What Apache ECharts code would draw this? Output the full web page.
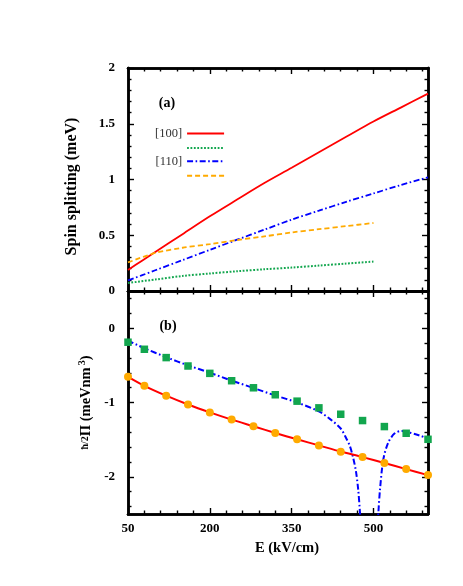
<!DOCTYPE html>
<html>
<head>
<meta charset="utf-8">
<script src="https://cdn.jsdelivr.net/npm/echarts@6/dist/echarts.min.js"></script>
<style>html,body{margin:0;padding:0;background:#fff}#c{width:463px;height:586px}</style>
</head>
<body>
<div id="c"></div>
<script>
// ---------- Panel (a): spin splitting (meV) ----------
const E_a = [50, 75, 100, 150, 200, 250, 300, 350, 400, 450, 500, 550, 600];
const split100 = [0.188, 0.27, 0.35, 0.51, 0.67, 0.82, 0.968, 1.105, 1.245, 1.383, 1.52, 1.645, 1.77];
const split110 = [0.095, 0.14, 0.186, 0.277, 0.369, 0.46, 0.55, 0.64, 0.72, 0.80, 0.875, 0.95, 1.02];
const E_a2 = [50, 100, 150, 200, 250, 300, 350, 400, 450, 500];
const split100b = [0.072, 0.103, 0.135, 0.157, 0.177, 0.195, 0.21, 0.228, 0.246, 0.264];
const split110b = [0.256, 0.341, 0.388, 0.42, 0.457, 0.49, 0.525, 0.554, 0.582, 0.61];

// ---------- Panel (b): hbar/2 Pi (meV nm^3) ----------
const E_b = [50, 80, 120, 160, 200, 240, 280, 320, 360, 400, 440, 480, 520, 560, 600];
const pts110 = [-0.189, -0.284, -0.396, -0.509, -0.608, -0.707, -0.802, -0.896, -0.982, -1.072, -1.158, -1.243, -1.324, -1.414, -1.495];
const pts100 = [-0.653, -0.775, -0.91, -1.027, -1.135, -1.23, -1.32, -1.41, -1.495, -1.577, -1.662, -1.734, -1.815, -1.896, -1.977];
const line100 = [-0.655, -0.775, -0.908, -1.027, -1.133, -1.23, -1.32, -1.41, -1.495, -1.577, -1.66, -1.735, -1.815, -1.896, -1.977];
const E_bl = [50, 80, 120, 160, 200, 240, 280, 320, 360, 400, 420, 440, 450, 457, 463, 468, 472, 475, 478, 492, 506, 509, 512, 518, 527, 539, 552, 567, 583, 600];
const line110 = [-0.167, -0.27, -0.39, -0.5, -0.6, -0.705, -0.805, -0.905, -1.0, -1.12, -1.22, -1.35, -1.48, -1.59, -1.75, -1.93, -2.17, -2.45, -2.8, null, -2.8, -2.48, -2.17, -1.77, -1.54, -1.415, -1.383, -1.406, -1.44, -1.486];

// ---------- Axis ticks ----------
const xMajor = [50, 200, 350, 500];
const xMinor = [80, 110, 140, 170, 230, 260, 290, 320, 380, 410, 440, 470, 530, 560, 590];
const yaMajor = [0, 0.5, 1, 1.5, 2];
const yaMinor = [0.1,0.2,0.3,0.4,0.6,0.7,0.8,0.9,1.1,1.2,1.3,1.4,1.6,1.7,1.8,1.9];
const ybMajor = [-2, -1, 0];
const ybMinor = [-2.4,-2.2,-1.8,-1.6,-1.4,-1.2,-0.8,-0.6,-0.4,-0.2,0.2,0.4];

const FONT = 'Liberation Serif';
const zip = (xs, ys) => xs.map((x, i) => [x, ys[i]]);

function tickAxis(base, gridIndex, position, values, len, labels) {
  return Object.assign({
    type: 'value', gridIndex, position,
    axisLine: { show: true, onZero: false, lineStyle: { color: '#000', width: 2.5 } },
    splitLine: { show: false },
    axisTick: { show: true, inside: true, customValues: values, length: len, lineStyle: { color: '#000', width: 1.4 } },
    axisLabel: labels ? Object.assign({ show: true, customValues: values, color: '#000', fontFamily: FONT, fontWeight: 'bold', fontSize: 13 }, labels) : { show: false }
  }, base);
}

const xAxes = [], yAxes = [];
// grid 0
const xb0 = { min: 50, max: 600 };
xAxes.push(tickAxis(xb0, 0, 'bottom', xMajor, 6, null));
xAxes.push(tickAxis(xb0, 0, 'bottom', xMinor, 3.5, null));
xAxes.push(tickAxis(xb0, 0, 'top', xMajor, 6, null));
xAxes.push(tickAxis(xb0, 0, 'top', xMinor, 3.5, null));
const ya = { min: 0, max: 2 };
yAxes.push(tickAxis(Object.assign({ name: 'Spin splitting (meV)', nameLocation: 'middle', nameGap: 48, nameRotate: 90,
  nameTextStyle: { fontFamily: FONT, fontWeight: 'bold', fontSize: 16, color: '#000', padding: [0, 14, 0, 0] } }, ya), 0, 'left', yaMajor, 6, { margin: 13 }));
yAxes.push(tickAxis(ya, 0, 'left', yaMinor, 3.5, null));
yAxes.push(tickAxis(ya, 0, 'right', yaMajor, 6, null));
yAxes.push(tickAxis(ya, 0, 'right', yaMinor, 3.5, null));
// grid 1
xAxes.push(tickAxis(Object.assign({ name: 'E (kV/cm)', nameLocation: 'middle', nameGap: 27,
  nameTextStyle: { fontFamily: FONT, fontWeight: 'bold', fontSize: 14.5, color: '#000', padding: [0, 0, 0, 18] } }, xb0), 1, 'bottom', xMajor, 6, { margin: 8 }));
xAxes.push(tickAxis(xb0, 1, 'bottom', xMinor, 3.5, null));
xAxes.push(tickAxis(xb0, 1, 'top', xMajor, 6, null));
xAxes.push(tickAxis(xb0, 1, 'top', xMinor, 3.5, null));
const yb = { min: -2.5, max: 0.5 };
yAxes.push(tickAxis(Object.assign({ name: '{f|ħ/2}Π (meVnm{s|3})', nameLocation: 'middle', nameGap: 33, nameRotate: 90,
  nameTextStyle: { fontFamily: FONT, fontWeight: 'bold', fontSize: 14.5, color: '#000',
    rich: { f: { fontFamily: FONT, fontSize: 10, fontWeight: 'bold', color: '#000' }, s: { fontFamily: FONT, fontSize: 10, fontWeight: 'bold', color: '#000', verticalAlign: 'top', padding: [0, 0, 6, 2] } } } }, yb), 1, 'left', ybMajor, 6, { margin: 13 }));
yAxes.push(tickAxis(yb, 1, 'left', ybMinor, 3.5, null));
yAxes.push(tickAxis(yb, 1, 'right', ybMajor, 6, null));
yAxes.push(tickAxis(yb, 1, 'right', ybMinor, 3.5, null));

const RED = '#ff0000', GREEN = '#12a64e', BLUE = '#0000ff', ORANGE = '#ffaa00';

const option = {
  animation: false,
  backgroundColor: '#fff',
  grid: [
    { left: 128, right: 35, top: 68, height: 223, show: false },
    { left: 128, right: 35, top: 291, height: 223, show: false }
  ],
  xAxis: xAxes,
  yAxis: yAxes,
  legend: {
    orient: 'vertical', left: 150, top: 122, itemWidth: 37, itemHeight: 12, itemGap: 2, align: 'right',
    selectedMode: false,
    data: ['[100]', '[100] ', '[110]', '[110] '],
    formatter: n => (n.indexOf(' ') >= 0 ? '' : n),
    itemStyle: { color: 'rgba(0,0,0,0)', borderColor: 'rgba(0,0,0,0)', borderWidth: 0, opacity: 0 },
    textStyle: { fontFamily: FONT, fontSize: 12.5, color: '#333' }
  },
  graphic: [
    { type: 'text', x: 167, y: 103, style: { text: '(a)', font: 'bold 14px "Liberation Serif"', fill: '#000', align: 'center', verticalAlign: 'middle' } },
    { type: 'text', x: 168, y: 326, style: { text: '(b)', font: 'bold 14px "Liberation Serif"', fill: '#000', align: 'center', verticalAlign: 'middle' } }
  ],
  series: [
    { name: '[100]', type: 'line', xAxisIndex: 0, yAxisIndex: 0, data: zip(E_a, split100), symbol: 'none', smooth: 0.3,
      lineStyle: { color: RED, width: 1.8 }, itemStyle: { color: RED } },
    { name: '[100] ', type: 'line', xAxisIndex: 0, yAxisIndex: 0, data: zip(E_a2, split100b), symbol: 'none', smooth: 0.3,
      lineStyle: { color: GREEN, width: 2, type: [1.8, 1.6] }, itemStyle: { color: GREEN } },
    { name: '[110]', type: 'line', xAxisIndex: 0, yAxisIndex: 0, data: zip(E_a, split110), symbol: 'none', smooth: 0.3,
      lineStyle: { color: BLUE, width: 1.8, type: [6, 2.5, 1.6, 2.5] }, itemStyle: { color: BLUE } },
    { name: '[110] ', type: 'line', xAxisIndex: 0, yAxisIndex: 0, data: zip(E_a2, split110b), symbol: 'none', smooth: 0.3,
      lineStyle: { color: ORANGE, width: 1.8, type: [5, 3] }, itemStyle: { color: ORANGE } },

    { name: 'b110line', type: 'line', xAxisIndex: 4, yAxisIndex: 4, data: zip(E_bl, line110), symbol: 'none', smooth: 0.3, connectNulls: false, clip: true,
      lineStyle: { color: BLUE, width: 2, type: [6, 2.5, 1.6, 2.5] }, z: 3 },
    { name: 'b100line', type: 'line', xAxisIndex: 4, yAxisIndex: 4, data: zip(E_b, line100), symbol: 'none', smooth: 0.3,
      lineStyle: { color: RED, width: 2 }, z: 3 },
    { name: 'b110pts', type: 'scatter', xAxisIndex: 4, yAxisIndex: 4, data: zip(E_b, pts110), symbol: 'rect', symbolSize: 7.5,
      itemStyle: { color: GREEN, opacity: 1 }, z: 4 },
    { name: 'b100pts', type: 'scatter', xAxisIndex: 4, yAxisIndex: 4, data: zip(E_b, pts100), symbol: 'circle', symbolSize: 8,
      itemStyle: { color: ORANGE, opacity: 1 }, z: 4 }
  ]
};
const chart = echarts.init(document.getElementById('c'), null, { renderer: 'canvas' });
chart.setOption(option);
</script>
</body>
</html>
